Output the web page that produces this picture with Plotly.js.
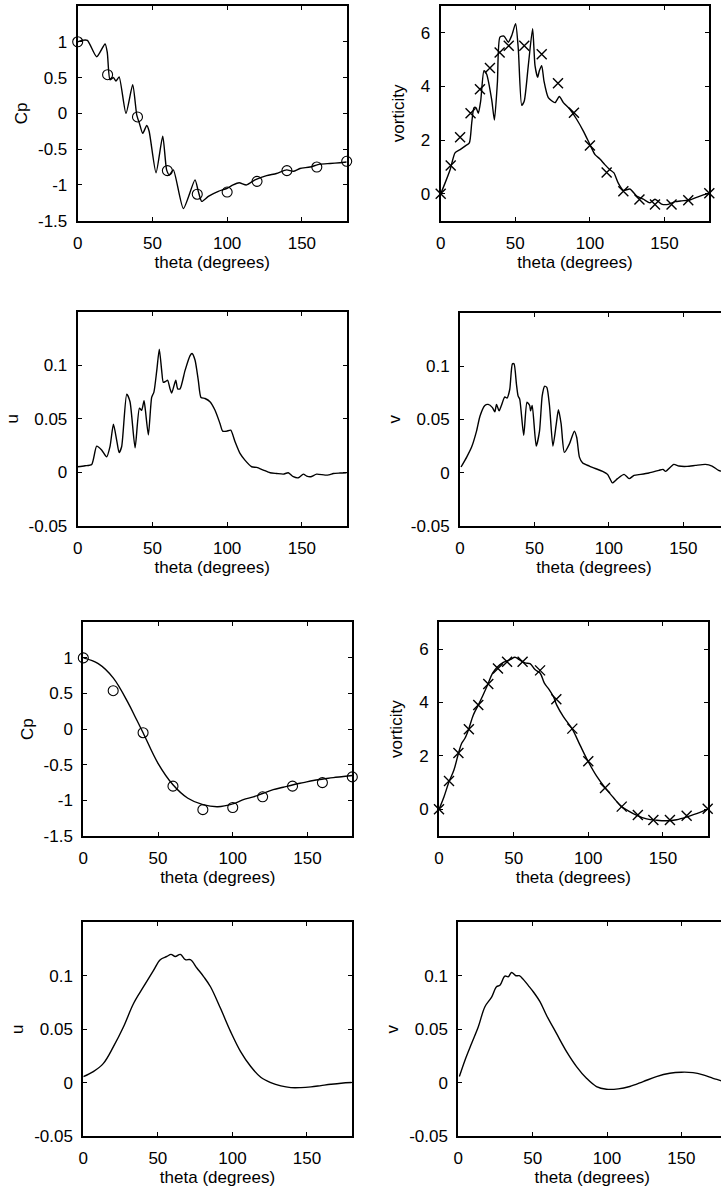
<!DOCTYPE html>
<html>
<head>
<meta charset="utf-8">
<script src="https://cdn.plot.ly/plotly-3.0.1.min.js"></script>
<style>
html,body{margin:0;padding:0;background:#fff;overflow:hidden;}
#chart{width:740px;height:1188px;}
</style>
</head>
<body>
<div id="chart"></div>
<script>
// ---------- data ----------
const expTheta = [0, 20, 40, 60, 80, 100, 120, 140, 160, 180];
const expCp = [1.0, 0.54, -0.05, -0.8, -1.13, -1.1, -0.95, -0.8, -0.75, -0.67];

const expVortTheta = [0, 6.7, 13, 20, 26.3, 33, 39.5, 45.6, 56, 67.7, 78.6, 89.3, 100, 111.2, 122.4, 133.2, 143.6, 154.7, 165.9, 180];
const expVort = [0, 1.06, 2.11, 3.0, 3.9, 4.69, 5.27, 5.52, 5.52, 5.2, 4.12, 3.02, 1.8, 0.8, 0.1, -0.21, -0.4, -0.4, -0.24, 0.02];

// row 1: first computation (oscillatory)
const cp1Theta = [0, 2.7, 6.5, 12.7, 18.3, 19.8, 21.6, 23.9, 25.6, 27.7, 32.3, 36.8, 39.5, 41.3, 43.5, 46.2, 47.8, 52.4, 56.9, 59.5, 61.3, 64, 70.7, 78.5, 80.7, 83, 87.4, 94.1, 99.7, 104, 108, 113, 118.6, 126.4, 133, 139.8, 144.3, 148.7, 155.4, 162, 168.8, 175.5, 180];
const cp1 = [1.0, 1.02, 1.02, 0.79, 0.97, 0.85, 0.47, 0.5, 0.45, 0.51, 0.0, 0.4, -0.02, -0.14, -0.28, -0.17, -0.25, -0.83, -0.32, -0.79, -0.86, -0.79, -1.33, -0.93, -1.09, -1.23, -1.16, -1.09, -1.05, -1.0, -0.97, -1.0, -0.93, -0.87, -0.84, -0.79, -0.81, -0.77, -0.75, -0.71, -0.7, -0.69, -0.68];

const vort1Theta = [0, 2.9, 6.3, 9.6, 13, 16.3, 19.2, 20.8, 22.3, 23.7, 25.2, 26.8, 29, 30.8, 34.2, 36, 38, 39.7, 42.4, 45.3, 47.6, 50.2, 52, 54.3, 56, 58.7, 61.6, 63.2, 65, 66.1, 67.7, 69.2, 72.1, 76.6, 79.5, 82.2, 86.6, 91.1, 95.6, 100, 103.4, 106.7, 110, 113.4, 116.1, 119, 122.4, 126.8, 131.3, 135.8, 140.2, 143.6, 148, 152.5, 157, 161.5, 167, 171.5, 176, 180];
const vort1 = [0, 0.4, 0.9, 1.53, 1.65, 1.78, 1.9, 2.65, 3.21, 3.21, 3.0, 3.46, 4.59, 4.46, 3.5, 2.75, 4.15, 5.84, 5.88, 5.65, 5.9, 6.34, 5.4, 3.3, 3.46, 4.78, 6.15, 4.78, 4.34, 4.59, 4.78, 4.21, 3.59, 3.4, 3.63, 3.4, 3.15, 2.78, 2.34, 1.84, 1.46, 1.3, 1.09, 0.9, 0.78, 0.4, 0.13, 0.18, -0.08, -0.2, -0.33, -0.2, -0.38, -0.39, -0.29, -0.26, -0.23, -0.13, -0.04, 0.03];

const u1Theta = [0, 4.9, 9.4, 12.7, 16, 19.4, 21.6, 23.9, 26.1, 27.7, 29.4, 32.8, 35, 38.4, 41.3, 42.8, 44.4, 45.3, 47.3, 49.5, 51, 52.9, 54.6, 56.2, 57.3, 58.9, 60.2, 61.8, 62.9, 65.6, 66.9, 68.5, 71.8, 75.2, 76.5, 78.5, 80.7, 82.5, 85.2, 88.5, 91.9, 95.2, 97, 99.7, 102.4, 105.3, 108.6, 111.9, 116.4, 119.8, 124.2, 128.7, 133.1, 137.6, 140.9, 144.3, 147.6, 151, 153.2, 155.9, 159.9, 165.5, 168.8, 171, 175.5, 180];
const u1 = [0.0053, 0.0062, 0.0075, 0.0245, 0.021, 0.0146, 0.024, 0.045, 0.03, 0.0186, 0.024, 0.073, 0.066, 0.023, 0.06, 0.058, 0.067, 0.058, 0.035, 0.07, 0.075, 0.095, 0.115, 0.095, 0.084, 0.085, 0.086, 0.078, 0.074, 0.086, 0.078, 0.078, 0.095, 0.109, 0.111, 0.105, 0.086, 0.07, 0.069, 0.066, 0.058, 0.0457, 0.0385, 0.0385, 0.0394, 0.0286, 0.0177, 0.0115, 0.0053, 0.0047, 0.0022, -0.0003, -0.001, -0.0016, -0.0003, -0.004, -0.005, -0.0016, -0.0034, -0.004, -0.0016, -0.0025, -0.002, -0.001, -0.0006, -0.0003];

const v1Theta = [0.7, 4.5, 7.8, 11.1, 13.4, 16.7, 18.9, 21.8, 23.4, 24.5, 26.3, 27.8, 30.1, 31.6, 33.4, 35.2, 36.3, 37.9, 39, 40.1, 42.8, 45, 46.8, 47.4, 48.5, 51.2, 53.4, 55.2, 56.8, 58.3, 60.1, 62.4, 64.6, 66.1, 67.9, 70.1, 73.5, 76.8, 78.4, 80.2, 82.4, 86.9, 91.3, 95.8, 99.1, 100.7, 102.4, 105.8, 110.2, 113.6, 116.9, 121.4, 126.9, 133.6, 136.3, 138.1, 143.6, 147, 152.5, 158.1, 164.8, 169.3, 173.7, 178];
const v1 = [0.0053, 0.0146, 0.024, 0.039, 0.053, 0.063, 0.064, 0.061, 0.057, 0.064, 0.058, 0.063, 0.071, 0.07, 0.078, 0.102, 0.102, 0.083, 0.072, 0.069, 0.035, 0.066, 0.063, 0.058, 0.063, 0.025, 0.039, 0.072, 0.081, 0.08, 0.063, 0.025, 0.045, 0.059, 0.046, 0.019, 0.027, 0.039, 0.033, 0.0146, 0.009, 0.0062, 0.0037, 0.0012, -0.0016, -0.0056, -0.0096, -0.0056, -0.0016, -0.0056, -0.0025, -0.0016, -0.0003, 0.0022, 0.0031, 0.0012, 0.0078, 0.0062, 0.0059, 0.0068, 0.0078, 0.0062, 0.0022, 0.0005];

// rows 3-4: second computation (smooth)
const cp2Theta = [0, 10, 20, 30, 35, 40, 50, 60, 70, 80, 90, 100, 107.1, 113.8, 120.4, 127.1, 133.8, 140.5, 147.2, 153.9, 160.6, 167.3, 174, 180];
const cp2 = [1.0, 0.92, 0.72, 0.37, 0.16, -0.05, -0.48, -0.78, -0.97, -1.06, -1.09, -1.05, -0.99, -0.95, -0.9, -0.85, -0.815, -0.78, -0.75, -0.72, -0.7, -0.68, -0.665, -0.65];

const vort2Theta = [0, 3.3, 6.7, 10, 13, 15.2, 17.4, 19.7, 23, 26.4, 29.3, 32.6, 35.9, 39.1, 43.1, 47.6, 50.9, 53.8, 57.6, 61, 64.3, 67.7, 70.6, 73.9, 76.6, 78.8, 83.3, 89.3, 94.4, 100, 105.6, 111.2, 116.8, 122, 126.8, 132.9, 139.1, 145.8, 152.5, 159.2, 165.9, 172.6, 180];
const vort2 = [0, 0.46, 1.03, 1.47, 2.09, 2.47, 2.66, 2.97, 3.53, 3.91, 4.25, 4.66, 5.1, 5.33, 5.5, 5.6, 5.69, 5.6, 5.48, 5.45, 5.23, 5.1, 4.72, 4.47, 4.22, 3.91, 3.47, 3.0, 2.41, 1.78, 1.24, 0.81, 0.44, 0.11, -0.06, -0.24, -0.36, -0.41, -0.43, -0.39, -0.29, -0.16, 0];

const u2Theta = [0, 6.7, 13.5, 20.2, 26.9, 33.7, 40.4, 47.1, 51.6, 56.1, 58.8, 61.7, 65.1, 68.5, 71.8, 76.3, 80.8, 85.3, 92, 98.8, 105.5, 112.3, 119, 125.7, 132.5, 139.2, 145.9, 152.7, 159.4, 166.1, 172.9, 180];
const u2 = [0.0056, 0.0103, 0.018, 0.0336, 0.052, 0.074, 0.0897, 0.105, 0.115, 0.118, 0.12, 0.118, 0.12, 0.115, 0.115, 0.107, 0.099, 0.0897, 0.0695, 0.0477, 0.029, 0.015, 0.005, 0.0, -0.0031, -0.0047, -0.0047, -0.004, -0.0028, -0.0016, -0.0006, 0.0];

const v2Theta = [0.7, 4.5, 9, 13.4, 17.9, 22.4, 25.7, 28, 31.3, 33.6, 35.8, 38.7, 41, 43.7, 47, 50.4, 54.9, 59.3, 66, 72.8, 79.5, 86.2, 92.9, 99.6, 107.5, 115.3, 124.3, 133.2, 142.2, 150, 157.8, 164.6, 171.3, 176.4, 180];
const v2 = [0.0056, 0.021, 0.0368, 0.052, 0.071, 0.08, 0.0897, 0.091, 0.0997, 0.099, 0.103, 0.1, 0.1, 0.0966, 0.091, 0.085, 0.0757, 0.063, 0.046, 0.029, 0.015, 0.004, -0.0037, -0.0062, -0.0059, -0.0037, 0.0009, 0.0056, 0.0087, 0.0097, 0.0093, 0.0072, 0.004, 0.0019, 0.0];

// ticks
const xTickVals = [0, 50, 100, 150];
const xTickText = ["0", "50", "100", "150"];
const cpTickVals = [-1.5, -1, -0.5, 0, 0.5, 1];
const cpTickText = ["-1.5", "-1", "-0.5", "0", "0.5", "1"];
const vortTickVals = [0, 2, 4, 6];
const vortTickText = ["0", "2", "4", "6"];
const velTickVals = [-0.05, 0, 0.05, 0.1];
const velTickText = ["-0.05", "0", "0.05", "0.1"];

// ---------- layout ----------
const W = 740, H = 1188;
const FONT = {family: "'Liberation Sans', Arial, Helvetica, sans-serif", size: 17, color: "#000"};

// pixel boxes [x0, x1, y0(top), y1(bottom)]
const boxes = [
  [77.7, 346.7, 6, 220.7],
  [440.7, 709.3, 6, 220.7],
  [77.7, 346.7, 311.7, 526],
  [460, 728, 312.7, 526],
  [83.3, 352.3, 622.3, 836],
  [439, 707.7, 622.3, 836],
  [83.3, 351.7, 922.3, 1136],
  [458.3, 726, 922.3, 1136]
];
const yTitles = ["Cp", "vorticity", "u", "v", "Cp", "vorticity", "u", "v"];
const yStandoff = [6, 12, 6, 6, 6, 12, 6, 6];
const yRanges = [[-1.5, 1.5], [-1, 7], [-0.05, 0.15], [-0.05, 0.15], [-1.5, 1.5], [-1, 7], [-0.05, 0.15], [-0.05, 0.15]];
const yTV = [cpTickVals, vortTickVals, velTickVals, velTickVals, cpTickVals, vortTickVals, velTickVals, velTickVals];
const yTT = [cpTickText, vortTickText, velTickText, velTickText, cpTickText, vortTickText, velTickText, velTickText];

const layout = {
  width: W, height: H,
  margin: {l: 0, r: 0, t: 0, b: 0},
  paper_bgcolor: "#fff", plot_bgcolor: "#fff",
  showlegend: false,
  font: FONT
};

boxes.forEach((b, i) => {
  const n = i === 0 ? "" : String(i + 1);
  layout["xaxis" + n] = {
    domain: [b[0] / W, b[1] / W],
    anchor: "y" + n,
    range: [0, 180],
    tickmode: "array", tickvals: xTickVals, ticktext: xTickText,
    ticks: "inside", ticklen: 4, tickwidth: 1, tickcolor: "#000",
    showline: true, linewidth: 2, linecolor: "#000", mirror: "ticks",
    showgrid: false, zeroline: false,
    ticklabelstandoff: 6,
    tickfont: FONT,
    title: {text: "theta (degrees)", font: FONT, standoff: 2}
  };
  layout["yaxis" + n] = {
    domain: [1 - b[3] / H, 1 - b[2] / H],
    anchor: "x" + n,
    range: yRanges[i],
    tickmode: "array", tickvals: yTV[i], ticktext: yTT[i],
    ticks: "inside", ticklen: 4, tickwidth: 1, tickcolor: "#000",
    showline: true, linewidth: 2, linecolor: "#000", mirror: "ticks",
    showgrid: false, zeroline: false,
    ticklabelstandoff: 5,
    tickfont: FONT,
    title: {text: yTitles[i], font: FONT, standoff: yStandoff[i]}
  };
});

function line(x, y, k, sm) {
  return {x: x, y: y, type: "scatter", mode: "lines",
          line: {color: "#000", width: 1.4, shape: "spline", smoothing: sm},
          xaxis: "x" + k, yaxis: "y" + k, hoverinfo: "skip"};
}
function circles(x, y, k) {
  return {x: x, y: y, type: "scatter", mode: "markers",
          marker: {symbol: "circle-open", size: 10, color: "#000", line: {width: 1.1, color: "#000"}},
          xaxis: "x" + k, yaxis: "y" + k, cliponaxis: false};
}
function crosses(x, y, k) {
  return {x: x, y: y, type: "scatter", mode: "markers",
          marker: {symbol: "x-thin-open", size: 10, color: "#000", line: {width: 1.4, color: "#000"}},
          xaxis: "x" + k, yaxis: "y" + k, cliponaxis: false};
}

const data = [
  line(cp1Theta, cp1, "", 0.6), circles(expTheta, expCp, ""),
  line(vort1Theta, vort1, "2", 0.6), crosses(expVortTheta, expVort, "2"),
  line(u1Theta, u1, "3", 0.6),
  line(v1Theta, v1, "4", 0.6),
  line(cp2Theta, cp2, "5", 1), circles(expTheta, expCp, "5"),
  line(vort2Theta, vort2, "6", 1), crosses(expVortTheta, expVort, "6"),
  line(u2Theta, u2, "7", 1),
  line(v2Theta, v2, "8", 1)
];

Plotly.newPlot("chart", data, layout, {staticPlot: true, displayModeBar: false});
</script>
</body>
</html>
